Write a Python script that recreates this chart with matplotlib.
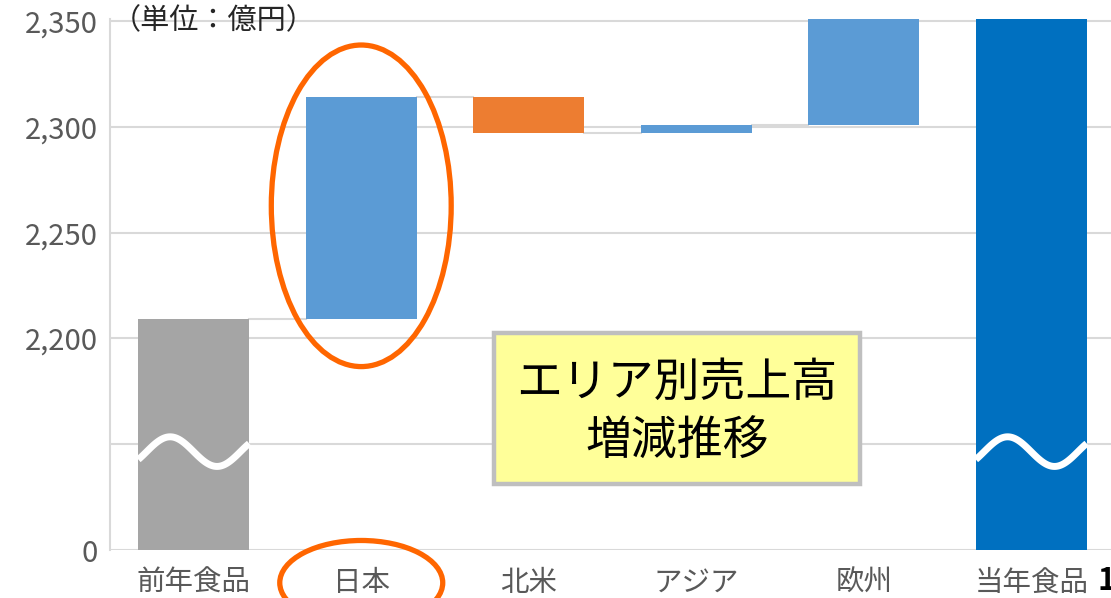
import matplotlib
matplotlib.use('Agg')
import matplotlib.pyplot as plt
from matplotlib.patches import Ellipse, Rectangle
import numpy as np

plt.rcParams['font.family'] = ['Noto Sans CJK JP', 'DejaVu Sans']

# données (億円)
categories = ['前年食品', '日本', '北米', 'アジア', '欧州', '当年食品']
previous_total = 2209
changes = [105, -17, 4, 62]          # 日本, 北米, アジア, 欧州
tick_values = [2100, 2150, 2200, 2250, 2300, 2350]
tick_labels = ['0', '', '2,200', '2,250', '2,300', '2,350']

BASE = 2100   # position du "0" (axe coupé)

c_total_prev = '#A5A5A5'
c_up = '#5B9BD5'
c_down = '#ED7D31'
c_total_now = '#0070C0'
c_grid = '#D9D9D9'

fig = plt.figure(figsize=(11.11, 5.98), dpi=100)
ax = fig.add_axes([110 / 1111, 1 - 550 / 598, 1005 / 1111, 531 / 598])

w = 0.662
x = np.arange(len(categories))

# barres
levels = [previous_total]
ax.bar(x[0], previous_total - BASE, bottom=BASE, width=w, color=c_total_prev, zorder=2)
level = previous_total
for i, d in enumerate(changes):
    lo = min(level, level + d)
    ax.bar(x[i + 1], abs(d), bottom=lo, width=w,
           color=c_up if d > 0 else c_down, zorder=2)
    level += d
    levels.append(level)
current_total = level
ax.bar(x[-1], current_total - BASE, bottom=BASE, width=w, color=c_total_now, zorder=2)

# lignes de liaison
for i, lv in enumerate(levels):
    ax.plot([x[i] + w / 2, x[i + 1] - w / 2], [lv, lv], color=c_grid, lw=1.5, zorder=1)

# vague blanche (coupure)
t = np.linspace(-w / 2, w / 2, 100)
wave = 2146.5 + 7 * np.sin(2 * np.pi * (t + w / 2 - 0.05) / 0.56)
for xi in (x[0], x[-1]):
    ax.plot(xi + t, wave, color='white', lw=5, zorder=3, solid_capstyle='butt')

ax.set_xlim(-0.5, 5.5)
ax.set_ylim(BASE, 2351)
ax.set_yticks(tick_values)
ax.set_yticklabels(tick_labels)
ax.set_xticks(x)
ax.set_xticklabels(categories)
ax.tick_params(axis='y', length=0, labelsize=21, colors='#595959', pad=9)
ax.tick_params(axis='x', length=0, labelsize=20.5, colors='#595959', pad=13)
ax.grid(axis='y', color=c_grid, lw=1.5, zorder=0)
ax.set_axisbelow(True)
for s in ['top', 'right', 'bottom']:
    ax.spines[s].set_visible(False)
ax.spines['left'].set_color(c_grid)
ax.spines['left'].set_linewidth(1.5)

# unité
fig.text(112 / 1111, 1 - 21 / 598, '（単位：億円）', fontsize=21, color='#262626',
         ha='left', va='center')

# ellipses oranges
ax.add_patch(Ellipse((1.0, 2262.7), 1.074, 152, fill=False, edgecolor='#FF6600',
                     lw=3.8, zorder=5, clip_on=False))
ax.add_patch(Ellipse((1.0, 2084.5), 0.973, 40, fill=False, edgecolor='#FF6600',
                     lw=3.8, zorder=5, clip_on=False))

# encadré
fig.patches.append(Rectangle((494 / 1111, 1 - 484 / 598), 366 / 1111, 151 / 598,
                             transform=fig.transFigure, facecolor='#FFFF99',
                             edgecolor='#BFBFBF', lw=3.2, zorder=6))
fig.text(677 / 1111, 1 - 383 / 598, 'エリア別売上高', fontsize=33, color='black',
         ha='center', va='center', zorder=7)
fig.text(677 / 1111, 1 - 441 / 598, '増減推移', fontsize=33, color='black',
         ha='center', va='center', zorder=7)

fig.text(1098 / 1111, 1 - 581 / 598, '1', fontsize=22, fontweight='bold', color='black',
         ha='left', va='center')

fig.savefig('out.png', dpi=100)
